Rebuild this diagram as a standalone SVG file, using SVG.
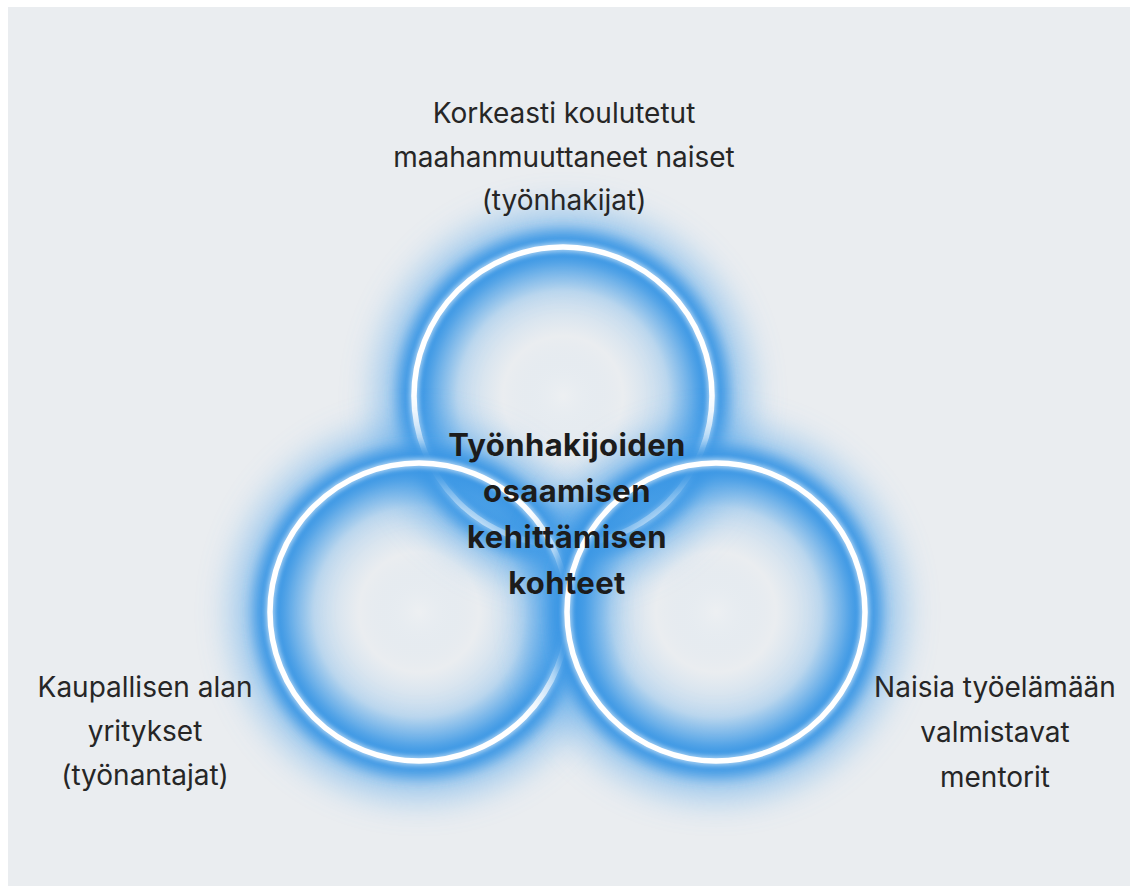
<svg xmlns="http://www.w3.org/2000/svg" width="1138" height="893" viewBox="0 0 1138 893">
  <defs>
    <style>
      .lbl { font-family: Inter, Roboto, "Liberation Sans", sans-serif; font-size: 28px; fill: #262626; text-anchor: middle; }
      .ctr { font-family: Inter, "Open Sans", "Liberation Sans", sans-serif; font-size: 31px; font-weight: 700; letter-spacing: 0.4px; fill: #1c1c1c; text-anchor: middle; }
      .glow { fill: none; stroke: #3a96e4; stroke-width: 26; filter: url(#blur); }
      .glow2 { fill: none; stroke: #5aa8ea; stroke-width: 60; opacity: 0.6; filter: url(#blur2); }
      .inner { fill: url(#innerGrad); }
      .ring { fill: none; stroke: #ffffff; stroke-width: 5.5; }
      .ringsoft { fill: none; stroke: #ffffff; stroke-width: 10; opacity: 0.5; filter: url(#blurS); }
    </style>
    <filter id="blur" x="-30%" y="-30%" width="160%" height="160%">
      <feGaussianBlur stdDeviation="7"/>
    </filter>
    <filter id="blur2" x="-40%" y="-40%" width="180%" height="180%">
      <feGaussianBlur stdDeviation="18"/>
    </filter>
    <filter id="blurS" x="-20%" y="-20%" width="140%" height="140%">
      <feGaussianBlur stdDeviation="2"/>
    </filter>
    <radialGradient id="innerGrad" cx="50%" cy="50%" r="50%">
      <stop offset="0" stop-color="#ffffff" stop-opacity="0.15"/>
      <stop offset="0.4" stop-color="#6db0ea" stop-opacity="0"/>
      <stop offset="0.7" stop-color="#4da2e8" stop-opacity="0.25"/>
      <stop offset="0.88" stop-color="#3c98e5" stop-opacity="0.7"/>
      <stop offset="1" stop-color="#3a96e4" stop-opacity="1"/>
    </radialGradient>
  </defs>

  <rect x="0" y="0" width="1138" height="893" fill="#ffffff"/>
  <rect x="8" y="7" width="1122" height="879" fill="#eaedf0"/>

  <g id="circle-top">
    <circle class="glow2" cx="563" cy="396" r="155"/>
    <circle class="glow" cx="563" cy="396" r="152"/>
    <circle class="inner" cx="563" cy="396" r="150"/>
    <circle class="ringsoft" cx="563" cy="396" r="149"/>
    <circle class="ring" cx="563" cy="396" r="149"/>
  </g>

  <g id="circle-left">
    <circle class="glow2" cx="419" cy="612" r="155"/>
    <circle class="glow" cx="419" cy="612" r="152"/>
    <circle class="inner" cx="419" cy="612" r="150"/>
    <circle class="ringsoft" cx="419" cy="612" r="149"/>
    <circle class="ring" cx="419" cy="612" r="149"/>
  </g>

  <g id="circle-right">
    <circle class="glow2" cx="716" cy="612" r="155"/>
    <circle class="glow" cx="716" cy="612" r="152"/>
    <circle class="inner" cx="716" cy="612" r="150"/>
    <circle class="ringsoft" cx="716" cy="612" r="149"/>
    <circle class="ring" cx="716" cy="612" r="149"/>
  </g>

  <g id="connectors"></g>

  <g id="center-label">
    <text class="ctr" x="567" y="456">Työnhakijoiden</text>
    <text class="ctr" x="567" y="502">osaamisen</text>
    <text class="ctr" x="567" y="548">kehittämisen</text>
    <text class="ctr" x="567" y="594">kohteet</text>
  </g>

  <g id="label-top">
    <text class="lbl" x="564" y="123">Korkeasti koulutetut</text>
    <text class="lbl" x="564" y="167">maahanmuuttaneet naiset</text>
    <text class="lbl" x="564" y="210">(työnhakijat)</text>
  </g>

  <g id="label-left">
    <text class="lbl" x="145" y="697">Kaupallisen alan</text>
    <text class="lbl" x="145" y="741">yritykset</text>
    <text class="lbl" x="145" y="785">(työnantajat)</text>
  </g>

  <g id="label-right">
    <text class="lbl" x="995" y="697">Naisia työelämään</text>
    <text class="lbl" x="995" y="742">valmistavat</text>
    <text class="lbl" x="995" y="787">mentorit</text>
  </g>
</svg>
